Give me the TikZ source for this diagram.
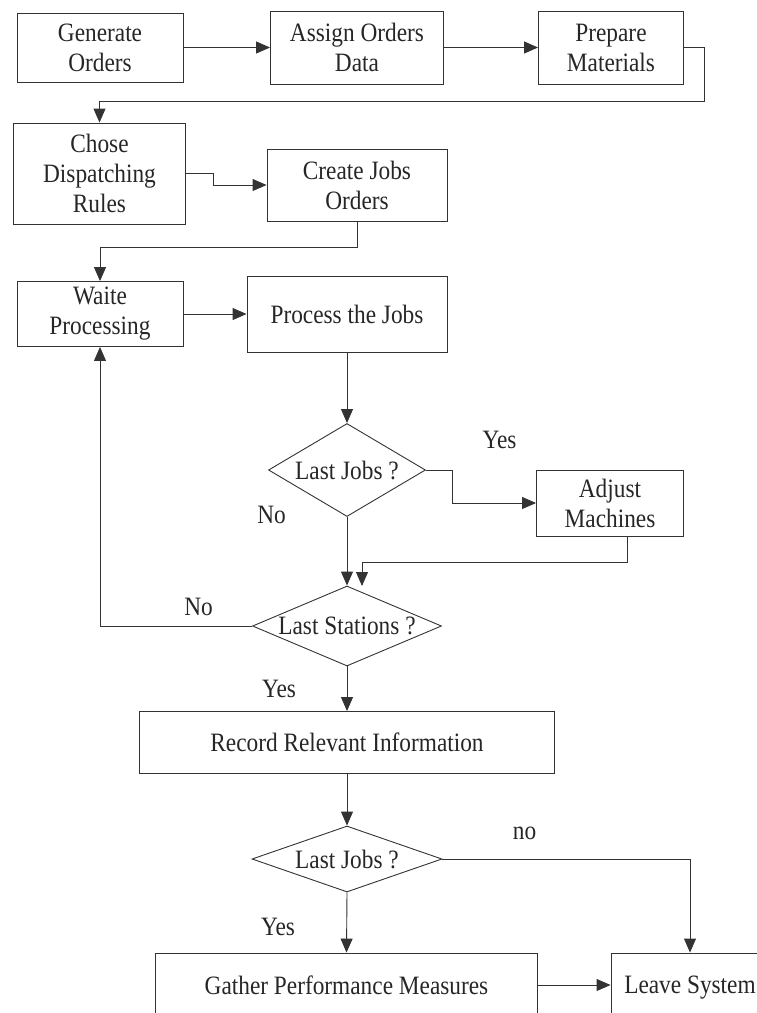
\documentclass[tikz,border=0pt]{standalone}
\usepackage{fontspec}
\setmainfont{Liberation Serif}[FakeStretch=0.88]
\usetikzlibrary{shapes, arrows, arrows.meta}
\tikzstyle{block} = [rectangle, draw=black!80, line width=0.9pt, align=center, inner sep=2pt]
\tikzstyle{decision} = [diamond, draw=black!80, line width=0.9pt, inner sep=0pt]
\tikzstyle{line} = [draw=black!80, line width=0.9pt, -{Triangle[length=14pt,width=12pt]}]
\tikzstyle{lbl} = [inner sep=0pt]

\begin{document}
\begin{tikzpicture}[x=1pt, y=-1pt]
\tikzstyle{every node}=[font=\fontsize{26.5}{30}\selectfont, text=black!85]
\path[use as bounding box, clip] (0,0) rectangle (757,1013);
% order preparation
\node[block, minimum width=166pt, minimum height=69pt] (gen_ord) at (100,47.5) {Generate\\Orders};
\node[block, minimum width=173pt, minimum height=73pt] (asg_data) at (357,47.5) {Assign Orders\\Data};
\node[block, minimum width=145pt, minimum height=73pt] (prep_mat) at (611,47.5) {Prepare\\Materials};
\node[block, minimum width=172pt, minimum height=101pt] (chose_rules) at (99.5,173.5) {Chose\\Dispatching\\Rules};
\node[block, minimum width=180pt, minimum height=72pt] (create_jobs) at (357,185) {Create Jobs\\Orders};
% processing loop
\node[block, minimum width=166pt, minimum height=65pt] (wait_proc) at (100,314) {Waite\\Processing};
\node[block, minimum width=200pt, minimum height=76pt] (proc_jobs) at (347,314) {Process the Jobs};
\node[decision, minimum width=157pt, minimum height=93pt, shape aspect=1.69] (last_jobs) at (347,470) {Last Jobs ?};
\node[block, minimum width=147pt, minimum height=66pt] (adj_mach) at (610,503) {Adjust\\Machines};
\node[decision, minimum width=189pt, minimum height=80pt, shape aspect=2.36] (last_st) at (347,626) {Last Stations ?};
% final steps
\node[block, minimum width=415pt, minimum height=62pt] (rec_info) at (347,742.5) {Record Relevant Information};
\node[decision, minimum width=190pt, minimum height=66pt, shape aspect=2.88] (last_jobs2) at (347,859) {Last Jobs ?};
\node[block, minimum width=382pt, minimum height=64pt] (gather_perf) at (346.5,985) {Gather Performance Measures};
\node[block, minimum width=158pt, minimum height=64pt, text depth=0pt] (leave_sys) at (690,985) {Leave System};
% labels
\node[lbl] (yes_a) at (499.5,440) {Yes};
\node[lbl] (no_a) at (271.5,515) {No};
\node[lbl] (no_b) at (198.5,607) {No};
\node[lbl] (yes_b) at (279,689) {Yes};
\node[lbl] (no_c) at (524.5,833) {no};
\node[lbl] (yes_c) at (278,927) {Yes};
% bends
\coordinate (ret_top) at (704,101.7);
\coordinate (ret_mid) at (357,247.3);
\coordinate (adj_turn) at (627,562);
\coordinate (adj_end) at (362,586);
\path [line] (gen_ord.east) -- (asg_data.west);
\path [line] (asg_data.east) -- (prep_mat.west);
\path [line] (prep_mat.east) -| (ret_top) -| (chose_rules.north);
\path [line] (chose_rules.east) -- ++(27,0) |- (create_jobs.west);
\path [line] (create_jobs.south) -- (ret_mid) -| (wait_proc.north);
\path [line] (wait_proc.east) -- (proc_jobs.west);
\path [line] (proc_jobs.south) -- (last_jobs.north);
\path [line] (last_jobs.east) -- ++(26,0) |- (adj_mach.west);
\path [line] (last_jobs.south) -- (last_st.north);
\path [line] (adj_mach.south -| adj_turn) -- (adj_turn) -| (adj_end);
\path [line] (last_st.west) -| (wait_proc.south);
\path [line] (last_st.south) -- (rec_info.north);
\path [line] (rec_info.south) -- (last_jobs2.north);
\path [line] (last_jobs2.east) -| (leave_sys.north);
\path [line] (last_jobs2.south) -- (gather_perf.north);
\path [line] (gather_perf.east) -- (leave_sys.west);
\end{tikzpicture}
\end{document}
